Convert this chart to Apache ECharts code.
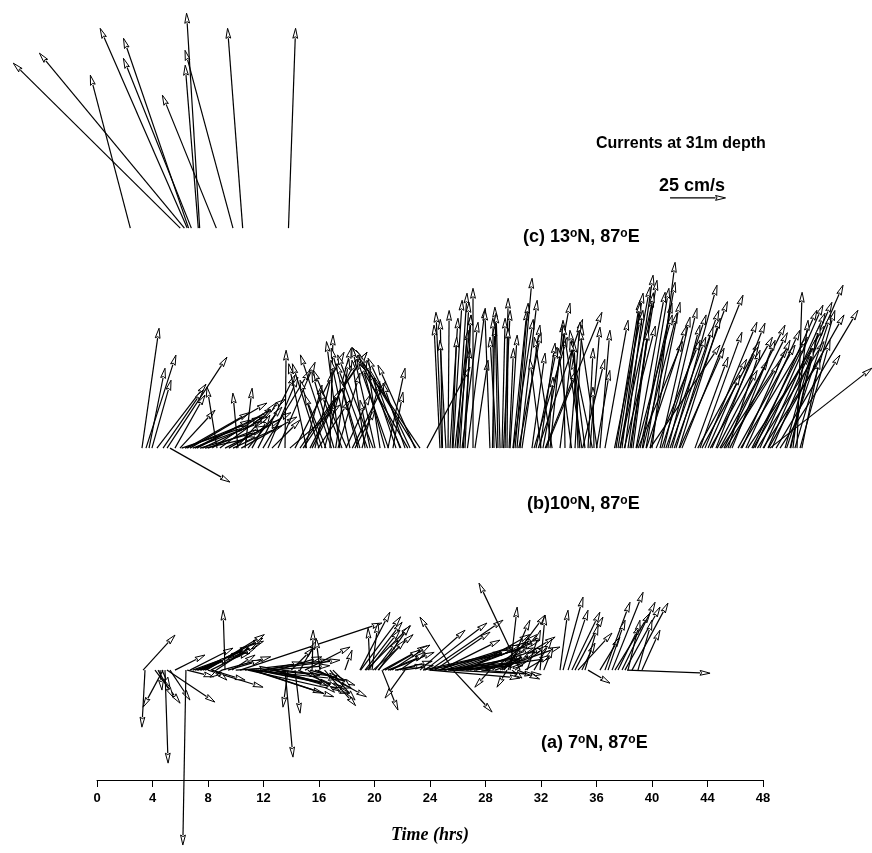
<!DOCTYPE html>
<html>
<head>
<meta charset="utf-8">
<script src="https://cdn.jsdelivr.net/npm/echarts@6/dist/echarts.min.js"></script>
<style>
  html, body { margin: 0; padding: 0; background: #fff; }
  #chart { width: 872px; height: 853px; }
</style>
</head>
<body>
<div id="chart"></div>
<script>
// current vectors: [time (hrs), u east (cm/s), v north (cm/s)]
const panelC = [
  [2.4, -18.0, 68.9], [6.0, -75.2, 74.3], [6.3, -65.3, 78.8], [6.5, -39.2, 90.0],
  [6.6, -29.3, 85.5], [6.8, -30.6, 76.5], [7.3, -5.9, 73.4], [7.4, -5.9, 96.8],
  [8.6, -24.3, 59.9], [9.8, -21.6, 80.1], [10.5, -6.8, 90.0], [13.8, 3.2, 90.0]
];

const panelB = [
  [3.24, 7.7, 54.0], [3.53, 13.5, 41.9], [3.75, 7.2, 36.0], [3.96, 8.6, 30.6],
  [4.32, 22.1, 28.8], [4.76, 18.0, 26.1], [5.05, 27.0, 41.0], [5.26, 27.0, -15.3],
  [5.62, 13.5, 23.9], [5.98, 15.8, 17.1], [6.1, 30.0, 10.0], [6.34, 34.7, 14.0],
  [6.5, 28.0, 16.0], [6.70, 34.7, 20.3], [6.9, 32.0, 12.0], [7.06, 24.8, 12.6],
  [7.2, 35.0, 18.0], [7.42, 28.4, 8.1], [7.6, 30.0, 14.0], [7.78, 22.5, 5.0],
  [8.0, 26.0, 10.0], [8.3, 33.0, 22.0], [8.65, -4.5, 27.5], [8.86, 23.4, 17.1],
  [9.23, 24.8, 12.6], [9.5, 28.0, 16.0], [9.8, 22.0, 10.0], [10.02, 18.0, 20.3],
  [10.16, -2.3, 24.8], [10.4, 25.0, 14.0], [10.67, 3.2, 27.0], [10.88, 15.3, 18.5],
  [11.17, 8.1, 14.9], [11.60, 16.7, 32.9], [11.96, 21.2, 35.1], [12.32, 13.5, 32.0],
  [12.61, 12.6, 12.6], [13.05, 16.7, 38.7], [13.55, 0.5, 44.1], [13.90, 22.5, 19.4],
  [14.27, 22.1, 43.2], [14.63, 30.2, 43.2], [14.85, 28.8, 43.2], [14.99, 7.7, 28.4],
  [15.1, -8.0, 38.0], [15.35, 13.5, 26.1], [15.5, 20.0, 40.0], [15.71, 7.7, 34.2],
  [15.93, 14.4, 21.6], [16.0, -12.0, 38.0], [16.22, -9.9, 30.6], [16.4, 12.0, 45.0],
  [16.50, -9.5, 23.9], [16.79, 1.4, 50.9], [16.9, -14.0, 42.0], [17.08, -9.9, 34.2],
  [17.2, 6.0, 40.0], [17.37, 9.9, 33.8], [17.5, -6.0, 48.0], [17.66, -9.9, 26.1],
  [17.95, 10.8, 23.9], [18.0, -15.0, 35.0], [18.23, -8.6, 39.6], [18.4, 15.0, 30.0],
  [18.59, 9.0, 17.1], [18.8, -12.0, 45.0], [18.95, -9.0, 30.6], [19.1, 8.0, 30.0],
  [19.32, -5.9, 39.6], [19.5, -14.0, 38.0], [19.68, -4.5, 21.6], [19.9, -16.0, 42.0],
  [20.04, -10.4, 45.5], [20.40, -5.9, 39.6], [20.76, -10.4, 37.4], [20.97, 7.7, 36.0],
  [21.0, -14.0, 40.0], [21.33, 4.5, 25.2], [21.55, -11.7, 35.1], [21.84, -11.3, 31.5],
  [21.9, -20.0, 44.0], [22.20, -9.9, 29.3], [22.4, -22.0, 38.0], [22.56, -18.9, 40.5],
  [22.92, -16.7, 37.4], [23.0, -26.0, 42.0], [23.28, -30.2, 45.0],
  [23.78, 19.4, 36.5], [24.72, -2.7, 55.4], [24.86, -2.7, 61.2], [24.9, -1.0, 58.0],
  [25.15, -2.7, 48.6], [25.3, 0.5, 62.0], [25.44, 3.6, 58.5], [25.6, 2.0, 50.0],
  [25.66, 4.1, 66.6], [25.80, 5.9, 53.1], [25.95, 4.5, 69.8], [26.0, 6.0, 60.0],
  [26.16, 4.1, 65.7], [26.31, 7.2, 56.7], [26.4, 3.0, 45.0], [26.52, 2.7, 59.9],
  [26.7, 8.0, 63.0], [27.10, 0.0, 72.0], [27.24, 5.9, 39.6], [28.32, -2.3, 62.1],
  [28.5, 1.0, 55.0], [28.61, -0.5, 58.5], [28.8, -3.0, 50.0], [28.90, -1.4, 63.5],
  [29.05, -1.8, 60.8], [29.19, 1.4, 58.5], [29.3, 3.0, 62.0], [29.41, 1.4, 67.5],
  [29.55, 0.5, 54.0], [29.7, 2.0, 45.0], [29.77, 3.2, 50.9], [29.98, 6.3, 62.1],
  [30.0, 9.0, 58.0], [30.13, 5.9, 65.3], [30.27, 6.8, 76.5], [30.4, 10.0, 52.0],
  [30.49, 7.7, 66.6], [30.63, 8.1, 55.4], [31.35, 5.9, 42.8], [31.5, 15.0, 50.0],
  [31.64, 9.5, 45.5], [31.8, 20.0, 58.0], [31.93, 6.8, 47.3], [32.0, -5.0, 40.0],
  [32.14, 12.2, 65.3], [32.3, 14.0, 35.0], [32.36, 25.2, 61.2], [32.50, 2.3, 32.0],
  [32.65, 5.9, 56.7], [32.8, -8.0, 50.0], [33.37, 5.9, 48.6], [33.73, -0.9, 57.6],
  [34.09, 4.5, 56.7], [34.2, -6.0, 45.0], [34.45, 3.2, 55.4], [34.67, -1.8, 47.7],
  [34.8, -3.0, 40.0], [34.95, -8.6, 55.4], [35.0, 10.0, 40.0], [35.17, -6.8, 53.1],
  [35.39, 2.3, 45.0], [35.53, 4.5, 54.5], [35.7, -10.0, 48.0], [35.82, -0.5, 27.5],
  [36.0, 6.0, 35.0], [36.04, -7.7, 53.1], [36.25, 4.5, 53.1], [36.61, 10.4, 57.6],
  [37.3, 12.0, 60.0], [37.41, 10.8, 66.6], [37.55, 11.3, 69.8], [37.69, 13.5, 72.5],
  [37.7, 15.0, 68.0], [37.84, 8.1, 65.3], [38.0, 14.0, 55.0], [38.05, 8.1, 62.1],
  [38.27, 11.3, 77.9], [38.41, 12.2, 75.6], [38.5, 10.0, 70.0], [38.63, 6.8, 53.1],
  [38.85, 13.1, 70.2], [38.9, 16.0, 60.0], [39.0, 20.0, 48.0], [39.14, 14.4, 65.3],
  [39.3, 12.0, 72.0], [39.35, 15.3, 60.8], [39.57, 13.1, 74.7], [39.6, 18.0, 55.0],
  [39.86, 13.5, 65.7], [39.86, 31.5, 46.4], [40.00, 10.4, 83.7], [40.30, 19.8, 48.6],
  [40.58, 13.5, 59.0], [40.7, 20.0, 60.0], [40.86, 14.9, 63.0], [41.0, 18.0, 50.0],
  [41.15, 14.4, 55.4], [41.3, 22.0, 62.0], [41.44, 20.3, 73.4], [41.6, 24.0, 66.0],
  [41.73, 16.7, 54.5], [41.95, 18.5, 58.5], [42.0, 20.0, 45.0], [42.16, 27.5, 68.9],
  [43.10, 14.9, 41.0], [43.3, 22.0, 40.0], [43.46, 18.9, 52.2], [43.6, 26.0, 48.0],
  [43.82, 23.4, 56.7], [44.04, 14.4, 32.9], [44.2, 28.0, 50.0], [44.32, 20.7, 45.5],
  [44.61, 22.1, 56.3], [44.7, 18.0, 35.0], [44.90, 21.6, 39.6], [45.0, 30.0, 45.0],
  [45.19, 27.5, 55.4], [45.3, 24.0, 38.0], [45.48, 14.4, 44.1], [45.6, 26.0, 52.0],
  [45.77, 19.4, 48.6], [46.20, 25.7, 46.4], [46.4, 30.0, 50.0], [46.49, 21.6, 48.6],
  [46.77, 24.3, 53.1], [46.9, 28.0, 42.0], [47.20, 23.9, 47.3], [47.3, 32.0, 55.0],
  [47.42, 27.9, 62.1], [47.6, 30.0, 48.0], [47.78, 28.4, 64.4], [48.0, 26.0, 40.0],
  [48.07, 27.5, 60.8], [48.36, 28.8, 65.7], [48.4, 34.0, 60.0], [48.50, 45.9, 36.0],
  [48.65, 32.0, 73.4], [48.94, 36.9, 62.1], [49.23, 27.0, 41.9], [49.59, 13.5, 48.6],
  [49.7, 20.0, 60.0], [49.95, 13.5, 55.4], [50.0, 10.0, 45.0], [50.16, 6.8, 57.6],
  [50.3, 18.0, 62.0], [50.45, 2.3, 70.2], [50.67, 13.5, 48.6], [50.8, 8.0, 40.0]
];

const panelA = [
  [3.32, 14.4, 15.8], [3.46, -1.4, -25.7], [4.18, 11.3, -14.9], [4.40, 6.8, -12.2],
  [4.54, 0.9, -9.0], [4.68, 3.6, -7.7], [4.76, -9.0, -16.7], [4.90, 1.4, -41.9],
  [5.04, 21.6, -14.4], [5.26, 9.0, -13.5], [5.62, 13.5, 6.8], [6.41, -1.4, -78.8],
  [6.5, 12.0, -3.0], [6.70, 19.4, 9.9], [6.9, 22.0, 8.0], [7.06, 24.8, 7.7],
  [7.2, 30.0, 13.0], [7.28, 25.7, 9.9], [7.42, 27.0, 12.2], [7.5, 22.0, 11.0],
  [7.64, 27.0, 14.4], [7.78, 11.3, 5.9], [7.9, 26.0, 16.0], [8.00, 24.8, -7.7],
  [8.2, 20.0, 10.0], [8.29, 14.9, -4.5], [8.50, 5.4, -4.5], [8.6, 18.0, 12.0],
  [9.0, 22.0, 6.0], [9.01, -5.4, -3.2], [9.23, -0.9, 27.0], [9.44, 15.3, 4.5],
  [9.73, 10.4, 6.8], [10.00, 15.3, 0.9], [10.31, 63.9, 21.2], [10.67, 38.3, 4.5],
  [10.88, 45.9, -10.4], [11.0, 40.0, -4.0], [11.17, 32.0, -10.4], [11.3, 36.0, -12.0],
  [11.46, 39.2, -7.7], [11.6, 42.0, -8.0], [11.75, 36.0, 4.5], [12.0, 30.0, -6.0],
  [12.11, 16.7, 3.6], [12.3, 28.0, 2.0], [12.47, 22.5, -2.3], [12.7, 34.0, -10.0],
  [12.83, 24.8, -6.8], [13.0, 20.0, 6.0], [13.3, 26.0, -3.0], [13.55, 3.6, -39.2],
  [13.77, -2.3, -16.7], [14.0, 10.0, 10.0], [14.27, 2.3, -19.4], [14.5, 18.0, -8.0],
  [14.63, 7.7, 13.5], [14.99, 20.3, 10.4], [15.2, 12.0, -10.0], [15.35, 15.8, -4.5],
  [15.5, 0.5, 18.0], [15.71, 18.0, -6.8], [15.9, 22.0, -12.0], [16.07, -1.8, 14.4],
  [16.4, 14.0, -16.0], [16.79, 11.3, -13.5], [17.0, 8.0, -8.0], [17.87, 3.2, 9.0],
  [18.95, 13.5, 26.1], [19.0, 18.0, 24.0], [19.32, 16.7, 21.6], [19.4, 20.0, 20.0],
  [19.53, 14.4, 18.0], [19.68, -0.9, 18.9], [19.82, 2.7, 21.2], [19.9, 18.0, 16.0],
  [20.04, 10.4, 13.5], [20.25, 12.2, 13.5], [20.3, 14.0, 20.0], [20.54, 7.2, -18.0],
  [20.6, 20.0, 11.0], [20.76, 15.8, 9.0], [20.97, 16.7, 6.8], [21.1, 20.0, 8.0],
  [21.26, 17.1, 11.3], [21.48, 13.5, 2.3], [21.6, 16.0, 4.0], [21.84, 11.3, 8.1],
  [22.0, 14.0, 2.0], [22.20, -9.0, -12.6], [23.28, 20.3, 18.0], [23.5, 36.0, 8.0],
  [23.64, 27.9, 21.2], [23.9, 45.0, 10.0], [24.00, 32.9, 22.5], [24.00, 40.5, -3.6],
  [24.3, 40.0, 2.0], [24.36, 24.8, 17.1], [24.6, 44.0, 14.0], [24.72, 27.0, 13.5],
  [24.72, 33.8, 3.6], [25.0, 38.0, 6.0], [25.08, 33.8, 11.3], [25.3, 42.0, -2.0],
  [25.44, 27.0, 9.0], [25.66, -14.9, 23.9], [25.66, 17.6, -18.9], [25.8, 36.0, 12.0],
  [26.02, 30.2, 6.8], [26.2, 30.0, 4.0], [26.31, 35.1, 13.5], [26.59, 37.8, 5.4],
  [26.7, 28.0, 16.0], [26.88, 33.8, 9.9], [27.17, 20.7, 2.7], [27.3, 26.0, 10.0],
  [27.7, 24.0, -2.0], [27.96, 15.8, 4.5], [28.1, 22.0, 8.0], [28.32, -6.8, -7.7],
  [28.5, 20.0, 16.0], [28.68, 29.3, 10.4], [29.05, 24.8, 14.9], [29.2, 12.0, 8.0],
  [29.33, 18.5, 24.8], [29.55, -4.5, -7.7], [29.62, 9.9, 22.5], [29.77, 3.2, 28.4],
  [29.91, 4.5, -3.6], [30.13, 14.9, 11.3], [30.3, 10.0, -4.0], [30.49, -18.5, 39.2],
  [30.85, 11.3, 6.8], [31.0, 6.0, 18.0], [31.5, 8.0, 14.0], [31.93, 2.3, 24.8],
  [32.2, 4.0, 10.0], [33.37, 3.6, 27.0], [33.59, 9.0, 32.9], [33.95, 9.0, 27.0],
  [34.23, 12.6, 26.1], [34.45, 12.6, 23.9], [34.67, 15.3, 16.7], [34.95, 5.9, 12.2],
  [35.17, 5.9, 20.3], [35.39, 9.9, -5.9], [36.25, 9.0, 14.9], [36.61, 11.3, 30.6],
  [36.83, 7.7, 22.5], [37.12, 14.0, 35.1], [37.33, 15.8, 25.7], [37.55, 9.9, 20.3],
  [37.84, 14.9, 30.6], [38.05, 15.8, 28.4], [38.20, 37.4, -1.4], [38.27, 5.4, 22.5],
  [38.56, 16.2, 30.2], [38.99, 6.3, 22.5], [39.28, 8.1, 18.0]
];

// reference arrow: 25 cm/s eastward
const scaleArrow = [[41.3, 25, 0]];

// vertical level of each panel's time line, in cm/s above the time axis
const levelA = 49.5, levelB = 149.5, levelC = 248.6, levelScale = 262.2;

const K = 4 / 25;        // hours of time axis per cm/s (25 cm/s arrow spans 4 h)
const Y_MAX = 351.35;    // y range so that 1 cm/s vertical equals 1 cm/s horizontal

function renderItem(params, api) {
  const t = api.value(0), u = api.value(1), v = api.value(2), lvl = api.value(3);
  const p0 = api.coord([t, lvl]);
  const p1 = api.coord([t + u * K, lvl + v]);
  const dx = p1[0] - p0[0], dy = p1[1] - p0[1];
  const len = Math.hypot(dx, dy) || 1;
  const ux = dx / len, uy = dy / len;
  const hl = Math.min(10, len * 0.6), hw = 2.4;
  const bx = p1[0] - ux * hl, by = p1[1] - uy * hl;
  return {
    type: "group",
    children: [
      {
        type: "line",
        shape: { x1: p0[0], y1: p0[1], x2: bx, y2: by },
        style: { stroke: "#000", lineWidth: 1.2 },
      },
      {
        type: "polygon",
        shape: {
          points: [
            [p1[0], p1[1]],
            [bx - uy * hw, by + ux * hw],
            [bx + ux * 1.5, by + uy * 1.5],
            [bx + uy * hw, by - ux * hw],
          ],
        },
        style: { fill: "#fff", stroke: "#000", lineWidth: 1 },
      },
    ],
  };
}

function vecSeries(list, level) {
  return {
    type: "custom",
    renderItem: renderItem,
    clip: false,
    silent: true,
    data: list.map((d) => [d[0], d[1], d[2], level]),
  };
}

const chart = echarts.init(document.getElementById("chart"), null, { renderer: "canvas" });

function degLabel(text, x, y) {
  return {
    type: "text",
    left: x,
    top: y,
    style: {
      text: text,
      font: "bold 18px 'Liberation Sans', Arial, sans-serif",
      fill: "#000",
      rich: {
        s: { fontSize: 12, fontWeight: "bold", verticalAlign: "top", padding: [0, 0, 6, 0] },
      },
    },
  };
}

chart.setOption({
  animation: false,
  backgroundColor: "#fff",
  grid: { left: 97, right: 109, top: 0, bottom: 73 },
  xAxis: {
    type: "value",
    min: 0,
    max: 48,
    interval: 4,
    splitLine: { show: false },
    axisLine: { lineStyle: { color: "#000", width: 1 } },
    axisTick: { inside: false, length: 7, lineStyle: { color: "#000" } },
    axisLabel: {
      color: "#000",
      fontSize: 13,
      fontWeight: "bold",
      fontFamily: "Liberation Sans, Arial, sans-serif",
      margin: 12,
    },
    name: "Time (hrs)",
    nameLocation: "middle",
    nameGap: 46,
    nameTextStyle: {
      color: "#000",
      fontSize: 18,
      fontStyle: "italic",
      fontWeight: "bold",
      fontFamily: "Liberation Serif, Times New Roman, serif",
    },
  },
  yAxis: { type: "value", min: 0, max: Y_MAX, show: false },
  series: [
    vecSeries(panelC, levelC),
    vecSeries(panelB, levelB),
    vecSeries(panelA, levelA),
    vecSeries(scaleArrow, levelScale),
  ],
  graphic: [
    {
      type: "text",
      left: 596,
      top: 136,
      style: { text: "Currents at 31m depth", font: "bold 16px 'Liberation Sans', Arial, sans-serif", fill: "#000" },
    },
    {
      type: "text",
      left: 659,
      top: 177,
      style: { text: "25 cm/s", font: "bold 18px 'Liberation Sans', Arial, sans-serif", fill: "#000" },
    },
    degLabel("(c) 13{s|o}N, 87{s|o}E", 523, 228),
    degLabel("(b)10{s|o}N, 87{s|o}E", 527, 495),
    degLabel("(a) 7{s|o}N, 87{s|o}E", 541, 734),
  ],
});
</script>
</body>
</html>
